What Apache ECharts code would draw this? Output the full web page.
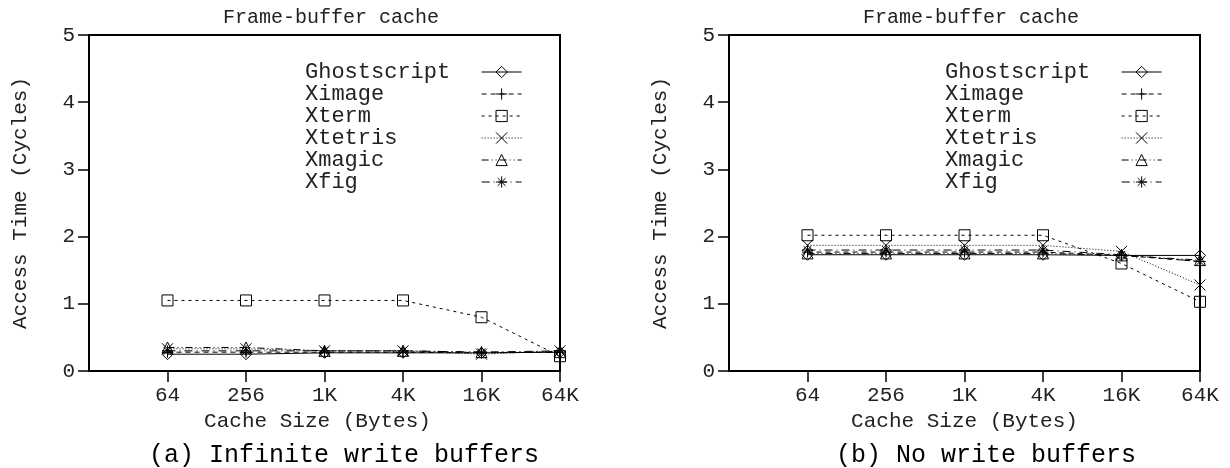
<!DOCTYPE html>
<html>
<head>
<meta charset="utf-8">
<title>Frame-buffer cache</title>
<script src="https://cdn.jsdelivr.net/npm/echarts@6/dist/echarts.min.js"></script>
<style>
  html, body { margin: 0; padding: 0; background: #fff; }
  #main { width: 1230px; height: 468px; }
</style>
</head>
<body>
<div id="main"></div>
<script>
  // x axis: cache size in bytes, drawn on a log2 scale
  var cacheSizes = [64, 256, 1024, 4096, 16384, 65536];
  var tickLabels = ['64', '256', '1K', '4K', '16K', '64K'];
  var seriesNames = ['Ghostscript', 'Ximage', 'Xterm', 'Xtetris', 'Xmagic', 'Xfig'];

  // (a) Infinite write buffers
  var ghostscriptA = [0.25, 0.25, 0.27, 0.27, 0.27, 0.28];
  var ximageA      = [0.28, 0.28, 0.28, 0.28, 0.27, 0.28];
  var xtermA       = [1.05, 1.05, 1.05, 1.05, 0.80, 0.22];
  var xtetrisA     = [0.33, 0.33, 0.30, 0.30, 0.25, 0.30];
  var xmagicA      = [0.35, 0.35, 0.30, 0.30, 0.28, 0.28];
  var xfigA        = [0.30, 0.30, 0.30, 0.30, 0.28, 0.30];

  // (b) No write buffers
  var ghostscriptB = [1.73, 1.73, 1.73, 1.73, 1.72, 1.72];
  var ximageB      = [1.77, 1.77, 1.77, 1.77, 1.72, 1.63];
  var xtermB       = [2.02, 2.02, 2.02, 2.02, 1.60, 1.03];
  var xtetrisB     = [1.87, 1.87, 1.87, 1.87, 1.78, 1.28];
  var xmagicB      = [1.75, 1.75, 1.75, 1.75, 1.72, 1.65];
  var xfigB        = [1.80, 1.80, 1.80, 1.80, 1.73, 1.63];

  var FONT = '"Liberation Mono", "DejaVu Sans Mono", monospace';
  var TXT = '#222';

  var xPos = cacheSizes.map(function (s) { return Math.log2(s); });

  // marker + dash style for each program (gnuplot look)
  var looks = [
    { symbol: 'diamond', dash: 'solid' },
    { symbol: 'path://M5 0L5 10M0 5L10 5', dash: [5, 4] },
    { symbol: 'rect', dash: [3, 4] },
    { symbol: 'path://M0 0L10 10M10 0L0 10', dash: [1, 2] },
    { symbol: 'triangle', dash: [7, 3, 1, 3, 1, 3] },
    { symbol: 'path://M5 0L5 10M0 5L10 5M1.5 1.5L8.5 8.5M8.5 1.5L1.5 8.5', dash: [8, 4, 1, 4] }
  ];

  function makeSeries(values, idx, panel) {
    var look = looks[idx];
    return {
      name: seriesNames[idx],
      type: 'line',
      xAxisIndex: panel,
      yAxisIndex: panel,
      data: values.map(function (v, i) { return [xPos[i], v]; }),
      symbol: look.symbol,
      symbolSize: 11,
      showSymbol: true,
      lineStyle: { color: '#000', width: 1, type: look.dash },
      itemStyle: { color: 'rgba(0,0,0,0)', borderColor: '#000', borderWidth: 1 },
      emphasis: { disabled: true },
      z: 10 - idx
    };
  }

  function xAxisOf(panel, namePad) {
    return {
      gridIndex: panel,
      type: 'value',
      min: 4,
      max: 16,
      interval: 2,
      name: 'Cache Size (Bytes)',
      nameLocation: 'middle',
      nameGap: 36,
      nameTextStyle: { fontFamily: FONT, fontSize: 21, color: TXT, padding: [0, namePad, 0, 0] },
      axisLine: { lineStyle: { color: '#000', width: 2 } },
      axisTick: { show: true, length: 11, customValues: xPos, lineStyle: { color: '#000', width: 1.5 } },
      axisLabel: {
        margin: 14,
        customValues: xPos,
        fontFamily: FONT, fontSize: 21, color: TXT,
        formatter: function (v) {
          var i = xPos.indexOf(v);
          return i < 0 ? '' : tickLabels[i];
        }
      },
      splitLine: { show: false }
    };
  }

  function yAxisOf(panel) {
    return {
      gridIndex: panel,
      type: 'value',
      min: 0,
      max: 5,
      interval: 1,
      name: 'Access Time (Cycles)',
      nameLocation: 'middle',
      nameGap: 58,
      nameTextStyle: { fontFamily: FONT, fontSize: 21, color: TXT },
      axisLine: { show: true, lineStyle: { color: '#000', width: 2 } },
      axisTick: { show: true, length: 11, lineStyle: { color: '#000', width: 1.5 } },
      axisLabel: { margin: 14, fontFamily: FONT, fontSize: 21, color: TXT },
      splitLine: { show: false }
    };
  }

  // text on the left, sample line on the right (monospace padding keeps text left-aligned)
  function legendOf(left) {
    return {
      data: seriesNames,
      orient: 'vertical',
      left: left,
      top: 61,
      padding: 0,
      itemGap: 0,
      itemWidth: 40,
      itemHeight: 14,
      align: 'right',
      selectedMode: false,
      itemStyle: { color: 'rgba(0,0,0,0)', borderColor: '#000', borderWidth: 1 },
      lineStyle: { width: 1, color: '#000' },
      textStyle: { fontFamily: FONT, fontSize: 22, color: TXT },
      formatter: function (name) {
        var s = name;
        while (s.length < 13) s += '\u00a0';
        return s;
      }
    };
  }

  var seriesA = [ghostscriptA, ximageA, xtermA, xtetrisA, xmagicA, xfigA];
  var seriesB = [ghostscriptB, ximageB, xtermB, xtetrisB, xmagicB, xfigB];
  var allSeries = [];
  seriesA.forEach(function (v, i) { allSeries.push(makeSeries(v, i, 0)); });
  seriesB.forEach(function (v, i) { allSeries.push(makeSeries(v, i, 1)); });

  var titleStyle = { fontFamily: FONT, fontSize: 20, fontWeight: 'normal', color: TXT };
  var capStyle = { fontFamily: FONT, fontSize: 25, fontWeight: 'normal', color: '#000' };

  var chart = echarts.init(document.getElementById('main'));
  chart.setOption({
    animation: false,
    backgroundColor: '#fff',
    title: [
      { text: 'Frame-buffer cache', left: 326, top: 3, textAlign: 'center', textStyle: titleStyle },
      { text: 'Frame-buffer cache', left: 966, top: 3, textAlign: 'center', textStyle: titleStyle },
      { text: '(a) Infinite write buffers', left: 339, top: 438, textAlign: 'center', textStyle: capStyle },
      { text: '(b) No write buffers', left: 981, top: 438, textAlign: 'center', textStyle: capStyle }
    ],
    legend: [legendOf(305), legendOf(945)],
    grid: [
      { left: 89, right: 670, top: 35, bottom: 97, show: true, borderColor: '#000', borderWidth: 2 },
      { left: 729, right: 30, top: 35, bottom: 97, show: true, borderColor: '#000', borderWidth: 2 }
    ],
    xAxis: [xAxisOf(0, 14), xAxisOf(1, 0)],
    yAxis: [yAxisOf(0), yAxisOf(1)],
    series: allSeries
  });
</script>
</body>
</html>
